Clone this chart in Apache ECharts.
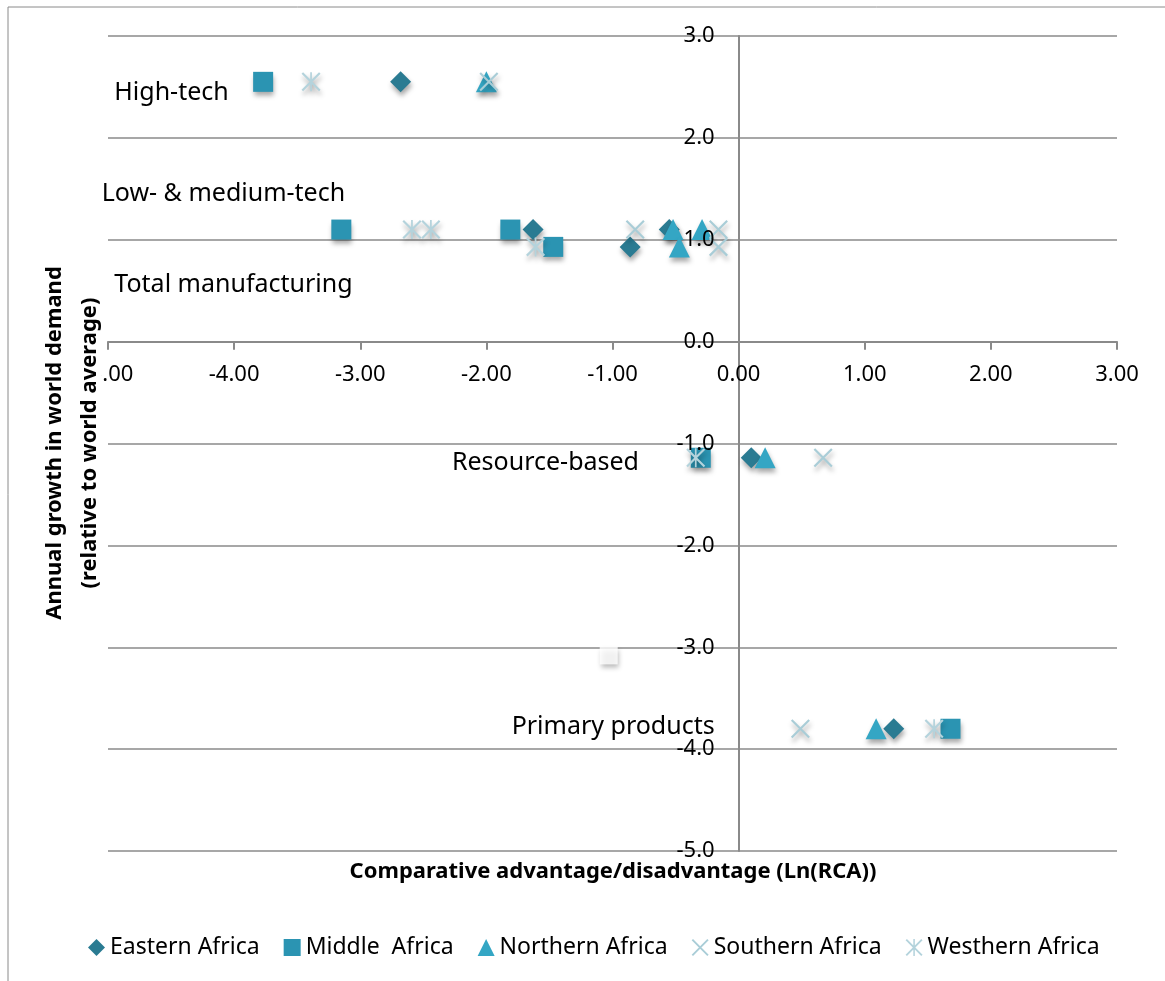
<!DOCTYPE html>
<html>
<head>
<meta charset="utf-8">
<script src="https://cdn.jsdelivr.net/npm/echarts@6/dist/echarts.min.js"></script>
<style>
  html, body { margin: 0; padding: 0; background: #ffffff; }
  #chart { width: 1165px; height: 981px; }
</style>
</head>
<body>
<div id="chart"></div>
<script>
// Regions shown in the legend
const regions = ['Eastern Africa', 'Middle  Africa', 'Northern Africa', 'Southern Africa', 'Westhern Africa'];

// Annual growth in world demand per product group (relative to world average):
// high-tech, low-tech, medium-tech, total manufacturing, resource-based, primary products
const demandGrowth = [2.55, 1.10, 1.10, 0.93, -1.14, -3.80];

// Comparative advantage (Ln(RCA)) of each region, same order as demandGrowth
const easternRCA  = [-2.68, -1.63, -0.55, -0.86,  0.10, 1.23];
const middleRCA   = [-3.77, -3.15, -1.81, -1.47, -0.30, 1.68];
const northernRCA = [-2.00, -0.52, -0.29, -0.47,  0.21, 1.09];
const southernRCA = [-1.98, -0.82, -0.16, -0.16,  0.67, 0.49];
const westernRCA  = [-3.39, -2.59, -2.44, -1.61, -0.34, 1.55];

// Empty marker left on the plot
const blankPoint = [-1.03, -3.08];

// Product group captions and the point (in axis units) they are anchored to
const groupLabels = ['High-tech', 'Low- & medium-tech', 'Total manufacturing', 'Resource-based', 'Primary products'];
const groupAnchorX = [-4.95, -5.05, -4.95, -0.79, -0.19];
const groupAnchorY = [2.44, 1.45, 0.56, -1.19, -3.78];
const groupAnchorAlign = ['left', 'left', 'left', 'right', 'right'];

// Axis ranges
const xTicks = { min: -5, max: 3, step: 1 };
const yTicks = { min: -5, max: 3, step: 1 };

const FONT = '"Noto Sans", "DejaVu Sans", sans-serif';
const W = 1165, H = 981;
const GRID = { left: 108, right: 48, top: 36, bottom: 130 };
const gridW = W - GRID.left - GRID.right;
const gridH = H - GRID.top - GRID.bottom;

// Both axes cross at zero: shift each axis inward from the grid edge
const yAxisShift = -(0 - xTicks.min) / (xTicks.max - xTicks.min) * gridW;
const xAxisShift = -(0 - yTicks.min) / (yTicks.max - yTicks.min) * gridH;

const shadow = { shadowBlur: 5, shadowColor: 'rgba(0,0,0,0.35)', shadowOffsetX: 1, shadowOffsetY: 4 };

const crossPath = 'path://M0,1.6L1.6,0L20,18.4L18.4,20Z M18.4,0L20,1.6L1.6,20L0,18.4Z';
const starPath = 'path://M0,1.6L1.6,0L20,18.4L18.4,20Z M18.4,0L20,1.6L1.6,20L0,18.4Z M9.1,0H10.9V20H9.1Z';

function pairs(xs) {
  return xs.map((x, i) => [x, demandGrowth[i]]);
}

function regionSeries(name, xs, symbol, color, size) {
  return {
    type: 'scatter',
    name: name,
    data: pairs(xs),
    symbol: symbol,
    symbolSize: size,
    clip: false,
    itemStyle: Object.assign({ color: color, opacity: 1 }, shadow),
    emphasis: { disabled: true }
  };
}

const titleStyle = { fontSize: 22, fontWeight: 'bold', fontFamily: FONT, fill: '#000', align: 'center', verticalAlign: 'middle' };

const frameAndTitles = [
  {
    type: 'rect', silent: true, z: -10,
    shape: { x: 8, y: 7, width: 1300, height: 1100 },
    style: { fill: 'none', stroke: '#8a8a8a', lineWidth: 1 }
  },
  {
    type: 'text', silent: true, z: 50,
    x: 613, y: 872,
    style: Object.assign({ text: 'Comparative advantage/disadvantage (Ln(RCA))' }, titleStyle)
  },
  {
    type: 'text', silent: true, z: 50,
    x: 55, y: 443, rotation: Math.PI / 2,
    style: Object.assign({ text: 'Annual growth in world demand' }, titleStyle)
  },
  {
    type: 'text', silent: true, z: 50,
    x: 90, y: 443, rotation: Math.PI / 2,
    style: Object.assign({ text: '(relative to world average)', backgroundColor: '#ffffff', padding: [0, 2, 0, 2] }, titleStyle)
  }
];

const yLabelStyle = {
  color: '#000', fontSize: 22, fontFamily: FONT, margin: 24,
  formatter: v => v.toFixed(1)
};

const chart = echarts.init(document.getElementById('chart'), null, { renderer: 'canvas' });

const option = {
  backgroundColor: '#ffffff',
  animation: false,
  textStyle: { fontFamily: FONT },
  grid: { left: GRID.left, right: GRID.right, top: GRID.top, bottom: GRID.bottom, containLabel: false },
  xAxis: {
    type: 'value',
    position: 'bottom',
    offset: xAxisShift,
    z: 4,
    min: xTicks.min, max: xTicks.max, interval: xTicks.step,
    axisLine: { onZero: false, lineStyle: { color: '#8a8a8a', width: 2 } },
    axisTick: { show: true, length: 8, lineStyle: { color: '#8a8a8a', width: 2 } },
    axisLabel: {
      color: '#000', fontSize: 22, fontFamily: FONT, margin: 22,
      formatter: v => v.toFixed(2)
    },
    splitLine: { show: false }
  },
  yAxis: [
    {
      // axis line and grid lines, beneath the markers
      type: 'value',
      position: 'left',
      offset: yAxisShift,
      min: yTicks.min, max: yTicks.max, interval: yTicks.step,
      axisLine: { onZero: false, lineStyle: { color: '#8a8a8a', width: 2 } },
      axisTick: { show: false },
      axisLabel: { show: false },
      splitLine: { show: true, lineStyle: { color: '#8a8a8a', width: 1.5 } }
    },
    {
      // tick labels, drawn above the markers
      type: 'value',
      position: 'left',
      offset: yAxisShift,
      z: 6,
      min: yTicks.min, max: yTicks.max, interval: yTicks.step,
      axisLine: { show: false },
      axisTick: { show: false },
      axisLabel: yLabelStyle,
      splitLine: { show: false }
    }
  ],
  legend: {
    data: regions,
    left: 83, top: 931,
    itemWidth: 17, itemHeight: 17, itemGap: 24,
    textStyle: { color: '#000', fontSize: 23, fontFamily: FONT },
    selectedMode: false
  },
  graphic: frameAndTitles,
  series: [
    regionSeries(regions[0], easternRCA, 'diamond', '#2a7b92', 21),
    regionSeries(regions[1], middleRCA, 'rect', '#2b94b2', 20),
    regionSeries(regions[2], northernRCA, 'triangle', '#34a6c4', 21),
    regionSeries(regions[3], southernRCA, crossPath, '#a9cdd7', 19),
    regionSeries(regions[4], westernRCA, starPath, '#b4d3dc', 19),
    {
      type: 'scatter',
      name: 'blank',
      data: [blankPoint],
      symbol: 'rect',
      symbolSize: 18,
      itemStyle: Object.assign({ color: '#ffffff' }, shadow),
      emphasis: { disabled: true },
      silent: true
    }
  ]
};

chart.setOption(option);

// Product group captions placed through the chart's own coordinate system
const captions = groupLabels.map((t, i) => {
  const p = chart.convertToPixel({ gridIndex: 0 }, [groupAnchorX[i], groupAnchorY[i]]);
  return {
    type: 'text', silent: true, z: 40,
    x: p[0], y: p[1],
    style: {
      text: t, fontSize: 25, fontFamily: FONT, fill: '#000',
      align: groupAnchorAlign[i], verticalAlign: 'middle'
    }
  };
});
chart.setOption({ graphic: frameAndTitles.concat(captions) });
</script>
</body>
</html>
